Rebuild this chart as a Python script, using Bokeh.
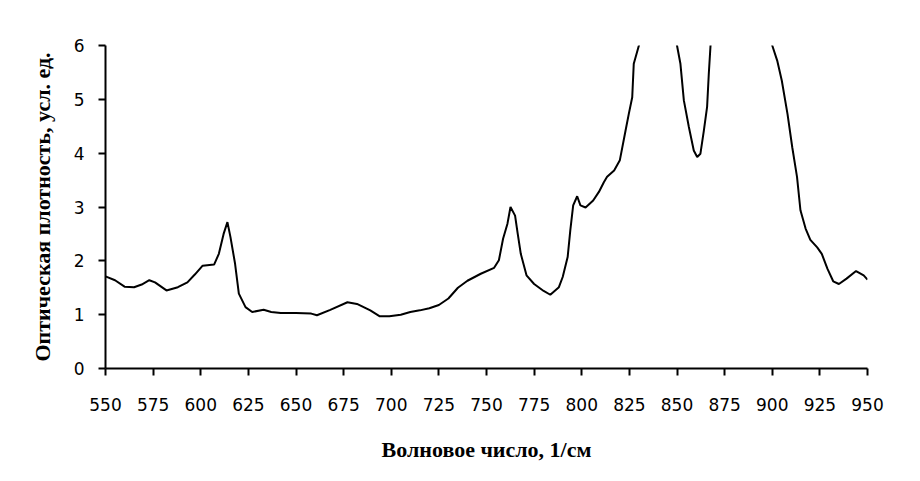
from bokeh.plotting import figure
from bokeh.models import Range1d, FixedTicker, ColumnDataSource
from bokeh.embed import file_html
from bokeh.resources import INLINE

wavenumber = [550, 555, 560, 565, 569, 573, 576, 582, 588, 593, 597, 601, 607, 609.5, 612, 614,
              615.6, 618, 620, 623.5, 627, 633, 637, 642, 650, 658, 661, 668, 677, 682, 689, 694,
              699, 705, 710, 715, 720, 725, 730, 735, 740, 747, 754, 756.5, 758.7, 761, 762.6,
              765, 766.4, 768, 771, 775, 780, 783.5, 788, 790, 792.6, 794, 795.5, 797.6, 799.3,
              802, 806, 809, 811.6, 813.3, 817, 820, 823, 824.7, 826.5, 827.3, 830, 835, 840,
              845, 850, 851.8, 853.6, 856.2, 858.8, 860.6, 862.3, 864.1, 865.8, 866.7, 867.6,
              875, 885, 895, 900, 902.6, 905, 908, 910.5, 913, 914.8, 917.5, 920, 923.6, 926,
              929, 932, 935, 939, 944, 948, 950]
absorbance = [1.71, 1.64, 1.52, 1.51, 1.56, 1.64, 1.60, 1.45, 1.51, 1.60, 1.75, 1.91, 1.93, 2.13,
              2.50, 2.72, 2.44, 1.95, 1.39, 1.14, 1.05, 1.09, 1.05, 1.03, 1.03, 1.02, 0.99, 1.09,
              1.23, 1.20, 1.08, 0.97, 0.97, 1.00, 1.05, 1.08, 1.12, 1.18, 1.30, 1.50, 1.63, 1.76,
              1.87, 2.01, 2.41, 2.69, 3.00, 2.84, 2.50, 2.13, 1.73, 1.57, 1.44, 1.37, 1.51, 1.70,
              2.07, 2.57, 3.03, 3.20, 3.03, 2.99, 3.12, 3.28, 3.46, 3.56, 3.68, 3.87, 4.42, 4.73,
              5.04, 5.66, 6.00, 6.90, 7.30, 6.90, 6.00, 5.66, 4.98, 4.49, 4.05, 3.93, 3.99, 4.42,
              4.86, 5.48, 6.00, 8.00, 9.00, 7.50, 6.00, 5.72, 5.35, 4.73, 4.11, 3.56, 2.94, 2.60,
              2.39, 2.25, 2.13, 1.85, 1.62, 1.57, 1.67, 1.81, 1.73, 1.65]
x_ticks = list(range(550, 951, 25))
y_ticks = [0, 1, 2, 3, 4, 5, 6]
x_title = "Волновое число, 1/см"
y_title = "Оптическая плотность, усл. ед."

src = ColumnDataSource(data=dict(x=wavenumber, y=absorbance))

p = figure(width=900, height=470, output_backend="svg", toolbar_location=None,
           x_range=Range1d(550, 950), y_range=Range1d(0, 6),
           min_border_left=105, min_border_right=33, min_border_top=45, min_border_bottom=102)
p.frame_width = 762
p.frame_height = 323
p.outline_line_color = None
p.grid.visible = False
p.background_fill_color = "white"
p.border_fill_color = "white"

p.line("x", "y", source=src, line_color="black", line_width=2)

p.xaxis.ticker = FixedTicker(ticks=x_ticks)
p.yaxis.ticker = FixedTicker(ticks=y_ticks)
for ax in (p.xaxis, p.yaxis):
    ax.axis_line_color = "black"
    ax.axis_line_width = 2
    ax.major_tick_line_color = "black"
    ax.major_tick_line_width = 2
    ax.major_tick_in = 0
    ax.major_tick_out = 7
    ax.minor_tick_line_color = None
    ax.major_label_text_font = "DejaVu Sans"
    ax.major_label_text_font_size = "17px"
    ax.major_label_text_color = "black"
    ax.axis_label_text_font = "Liberation Serif"
    ax.axis_label_text_font_style = "bold"
    ax.axis_label_text_font_size = "22px"
    ax.axis_label_text_color = "black"

p.xaxis.axis_label = x_title
p.yaxis.axis_label = y_title
p.xaxis.major_label_standoff = 22
p.yaxis.major_label_standoff = 14
p.xaxis.axis_label_standoff = 23
p.yaxis.axis_label_standoff = 16

open("out.html", "w").write(file_html(p, INLINE))
